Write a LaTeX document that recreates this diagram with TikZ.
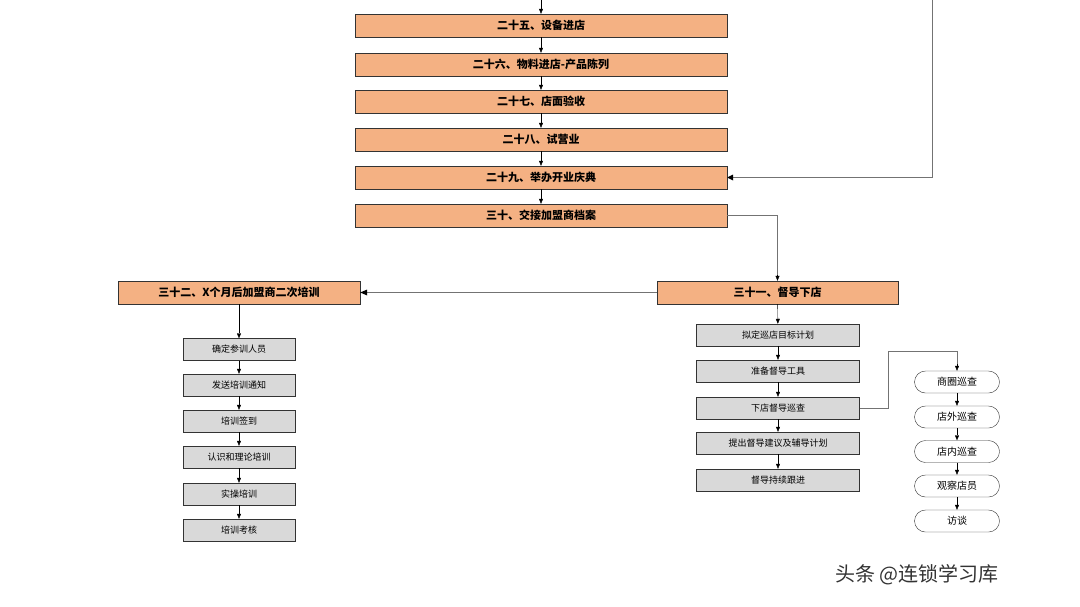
\documentclass[tikz,border=0pt]{standalone}
\usepackage{fontspec}
\setmainfont{Noto Sans CJK SC}
\usetikzlibrary{arrows.meta}
\begin{document}
\begin{tikzpicture}[x=1pt,y=-1pt,
  ob/.style={draw=black!80,fill={rgb,255:red,244;green,177;blue,131},minimum width=372pt,minimum height=23pt,inner sep=0pt,font=\bfseries\fontsize{11}{12}\selectfont},
  gb/.style={draw=black!80,fill=black!15,minimum width=163pt,minimum height=22pt,inner sep=0pt,font=\fontsize{9}{10}\selectfont},
  lb/.style={gb,minimum width=112pt},
  rb/.style={draw=black!80,fill=white,rounded corners=11pt,minimum width=85pt,minimum height=22pt,inner sep=0pt,font=\fontsize{10}{11}\selectfont},
  ar/.style={-{Triangle[length=5pt,width=4pt]},black},
  ln/.style={draw=black!55,line width=0.9pt}]
\useasboundingbox (0,0) rectangle (1080,606);
\node[ob] (n25) at (541,25.5) {二十五、设备进店};
\node[ob] (n26) at (541,64.5) {二十六、物料进店-产品陈列};
\node[ob] (n27) at (541,101.5) {二十七、店面验收};
\node[ob] (n28) at (541,139.5) {二十八、试营业};
\node[ob] (n29) at (541,177.5) {二十九、举办开业庆典};
\node[ob] (n30) at (541,215.5) {三十、交接加盟商档案};
\node[ob,minimum width=241pt] (n31) at (777.5,292.5) {三十一、督导下店};
\node[ob,minimum width=242pt] (n32) at (239,292.5) {三十二、X个月后加盟商二次培训};
\coordinate (t0) at (541,0);
\coordinate (r0) at (932,0);
\draw[ar] (t0) -- (n25);
\draw[ar] (n25) -- (n26);
\draw[ar] (n26) -- (n27);
\draw[ar] (n27) -- (n28);
\draw[ar] (n28) -- (n29);
\draw[ar] (n29) -- (n30);
\draw[ln] (r0) -- (932,177.5) -- (n29.east);
\fill (n29.east) -- ++(6,-3) -- ++(0,6) -- cycle;
\draw[ln] (n30.east) -- (777.5,215.5) -- (777.5,276);
\draw[ar] (777.5,275) -- (n31.north);
\draw[ln] (n31.west) -- (366,292.5);
\fill (n32.east) -- ++(7,-3) -- ++(0,6) -- cycle;
% right gray
\node[gb] (g1) at (778,335) {拟定巡店目标计划};
\node[gb] (g2) at (778,371) {准备督导工具};
\node[gb] (g3) at (778,408) {下店督导巡查};
\node[gb] (g4) at (778,443) {提出督导建议及辅导计划};
\node[gb] (g5) at (778,480) {督导持续跟进};
\draw[ar] (n31) -- (g1);
\draw[ar] (g1) -- (g2);
\draw[ar] (g2) -- (g3);
\draw[ar] (g3) -- (g4);
\draw[ar] (g4) -- (g5);
% left gray
\node[lb] (l1) at (239,349.5) {确定参训人员};
\node[lb] (l2) at (239,385) {发送培训通知};
\node[lb] (l3) at (239,421) {培训签到};
\node[lb] (l4) at (239,457) {认识和理论培训};
\node[lb] (l5) at (239,494) {实操培训};
\node[lb] (l6) at (239,530) {培训考核};
\draw[ar] (n32) -- (l1);
\draw[ar] (l1) -- (l2);
\draw[ar] (l2) -- (l3);
\draw[ar] (l3) -- (l4);
\draw[ar] (l4) -- (l5);
\draw[ar] (l5) -- (l6);
% rounded
\node[rb] (c1) at (957,382) {商圈巡查};
\node[rb] (c2) at (957,417) {店外巡查};
\node[rb] (c3) at (957,451.5) {店内巡查};
\node[rb] (c4) at (957,486) {观察店员};
\node[rb] (c5) at (957,521) {访谈};
\draw[ln] (g3.east) -- (888,408) -- (888,351) -- (957,351) -- (957,365);
\draw[ar] (957,364) -- (c1.north);
\draw[ar] (c1) -- (c2);
\draw[ar] (c2) -- (c3);
\draw[ar] (c3) -- (c4);
\draw[ar] (c4) -- (c5);
\node[anchor=west,text=black!80,font=\fontsize{20}{22}\selectfont,inner sep=0pt] (wm) at (835,575) {头条 @连锁学习库};
\end{tikzpicture}
\end{document}
